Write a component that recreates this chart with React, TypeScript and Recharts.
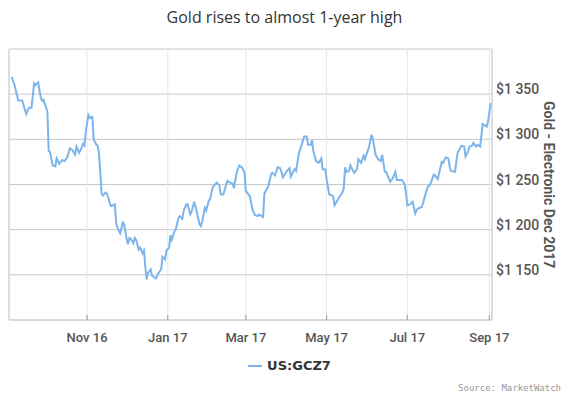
import { LineChart, Line, XAxis, YAxis, CartesianGrid, ReferenceLine } from 'recharts'

const DAY = 86400000
const START = Date.UTC(2016, 8, 3)
const END = Date.UTC(2017, 8, 3)

// [days since 3 Sep 2016, price in $]
const gczPrices: [number, number][] = [
  [2, 1369], [4, 1361], [7, 1343], [10, 1343], [13, 1328], [15, 1335], [17, 1335], [19, 1362],
  [20, 1360], [22, 1363], [24, 1346], [25, 1343], [26, 1344], [29, 1331], [30, 1287], [31, 1286],
  [33, 1271], [35, 1270], [36, 1279], [38, 1273], [40, 1277], [42, 1276], [44, 1280], [46, 1290],
  [48, 1288], [50, 1283], [51, 1292], [53, 1285], [55, 1291], [56, 1295], [57, 1293], [58, 1308],
  [60, 1327], [61, 1324], [63, 1325], [64, 1300], [66, 1294], [67, 1293], [68, 1285], [70, 1240],
  [71, 1238], [73, 1241], [74, 1240], [77, 1226], [80, 1228], [81, 1207], [82, 1202], [84, 1196],
  [86, 1208], [87, 1206], [89, 1189], [90, 1184], [91, 1191], [92, 1190], [94, 1185], [95, 1191],
  [96, 1189], [98, 1178], [99, 1180], [101, 1174], [102, 1177], [103, 1159], [104, 1145], [105, 1152],
  [107, 1156], [108, 1149], [110, 1147], [111, 1146], [113, 1152], [115, 1156], [116, 1170], [118, 1167],
  [119, 1177], [121, 1180], [122, 1194], [123, 1189], [125, 1198], [126, 1200], [128, 1213], [129, 1215],
  [131, 1212], [132, 1221], [134, 1228], [135, 1228], [137, 1217], [138, 1220], [140, 1231], [142, 1219],
  [144, 1206], [145, 1204], [146, 1209], [148, 1224], [149, 1221], [151, 1232], [152, 1234], [154, 1247],
  [157, 1252], [159, 1249], [160, 1239], [162, 1239], [165, 1254], [167, 1252], [169, 1251], [170, 1246],
  [172, 1263], [174, 1271], [176, 1269], [178, 1263], [179, 1243], [182, 1237], [184, 1222], [186, 1216],
  [188, 1215], [189, 1217], [192, 1214], [193, 1240], [196, 1248], [198, 1261], [199, 1263], [201, 1260],
  [203, 1269], [205, 1268], [207, 1258], [210, 1265], [212, 1268], [213, 1259], [215, 1265], [216, 1267],
  [217, 1265], [219, 1284], [220, 1289], [222, 1298], [223, 1303], [225, 1303], [226, 1294], [228, 1294],
  [229, 1299], [230, 1287], [232, 1276], [234, 1274], [236, 1279], [237, 1267], [239, 1267], [240, 1256],
  [242, 1239], [244, 1238], [245, 1237], [246, 1227], [248, 1232], [250, 1237], [252, 1241], [253, 1246],
  [254, 1269], [255, 1264], [257, 1265], [258, 1271], [260, 1265], [261, 1263], [263, 1267], [264, 1278],
  [266, 1274], [268, 1282], [269, 1278], [271, 1287], [272, 1291], [274, 1305], [275, 1300], [277, 1283],
  [279, 1278], [281, 1276], [282, 1283], [284, 1264], [285, 1264], [288, 1253], [290, 1257], [292, 1264],
  [293, 1255], [295, 1255], [297, 1255], [299, 1250], [300, 1241], [301, 1227], [303, 1228], [305, 1231],
  [307, 1218], [308, 1222], [310, 1224], [312, 1225], [313, 1230], [315, 1241], [317, 1249], [318, 1249],
  [321, 1261], [322, 1260], [324, 1256], [327, 1275], [328, 1274], [330, 1280], [332, 1279], [333, 1270],
  [334, 1265], [337, 1264], [339, 1285], [342, 1293], [344, 1292], [345, 1281], [347, 1287], [348, 1292],
  [350, 1293], [351, 1296], [353, 1292], [354, 1294], [356, 1292], [357, 1304], [358, 1317], [359, 1316],
  [361, 1314], [362, 1320], [363, 1330], [364, 1340],
]

const xTickDates = [
  Date.UTC(2016, 10, 1), Date.UTC(2017, 0, 1), Date.UTC(2017, 2, 1),
  Date.UTC(2017, 4, 1), Date.UTC(2017, 6, 1), Date.UTC(2017, 8, 1),
]
const xTickLabels = ['Nov 16', 'Jan 17', 'Mar 17', 'May 17', 'Jul 17', 'Sep 17']
const yTicks = [1100, 1150, 1200, 1250, 1300, 1350, 1400]
const yLabelled = [1150, 1200, 1250, 1300, 1350]

const data = gczPrices.map(([d, p]) => ({ t: START + d * DAY, price: p }))

const fmtPrice = (v: number) => '$' + String(v).replace(/(\d)(\d{3})$/, '$1 $2')

const YTick = (props: any) => {
  const { x, y, payload } = props
  if (!yLabelled.includes(payload.value)) return null
  return (
    <text x={x} y={y} textAnchor="start" fill="#555" fontSize={14} fontWeight={500} fontFamily="Roboto">
      {fmtPrice(payload.value)}
    </text>
  )
}

export default function App() {
  return (
    <div style={{ position: 'absolute', left: 0, top: 0, width: 569, height: 398, background: '#fff', fontFamily: 'Roboto' }}>
      <div style={{ position: 'absolute', top: 6, left: 0, width: 569, textAlign: 'center', fontFamily: '"Open Sans"', fontSize: 16, color: '#333' }}>
        Gold rises to almost 1-year high
      </div>

      <LineChart width={569} height={398} data={data} margin={{ top: 49, right: 17, bottom: 48, left: 9 }}>
        <CartesianGrid vertical={false} stroke="#c8c8c8" />
        <CartesianGrid horizontal={false} stroke="#e6e6e6" />
        <ReferenceLine x={START} stroke="#c8c8c8" />
        <ReferenceLine x={END} stroke="#c8c8c8" />
        <XAxis
          dataKey="t"
          type="number"
          domain={[START, END]}
          ticks={xTickDates}
          tickFormatter={(v: number) => xTickLabels[xTickDates.indexOf(v)] ?? ''}
          height={30}
          axisLine={{ stroke: '#c4d2e4' }}
          tickLine={{ stroke: '#999' }}
          tickSize={-5}
          tickMargin={18}
          tick={{ fill: '#555', fontSize: 13, fontWeight: 500, fontFamily: 'Roboto' }}
        />
        <YAxis
          orientation="right"
          domain={[1100, 1400]}
          ticks={yTicks}
          width={60}
          axisLine={false}
          tickLine={false}
          tickSize={0}
          tickMargin={4}
          tick={<YTick />}
        />
        <Line type="linear" dataKey="price" stroke="#7cb5ec" strokeWidth={2} dot={false} isAnimationActive={false} />
      </LineChart>

      <div style={{ position: 'absolute', left: 538, top: 49, width: 22, height: 271, display: 'flex', alignItems: 'center', justifyContent: 'center' }}>
        <span style={{ writingMode: 'vertical-rl', fontSize: 14, fontWeight: 700, color: '#555', whiteSpace: 'nowrap' }}>
          Gold - Electronic Dec 2017
        </span>
      </div>

      <div style={{ position: 'absolute', left: 0, top: 358, width: 569, display: 'flex', justifyContent: 'center', alignItems: 'center' }}>
        <span style={{ display: 'inline-block', width: 14, height: 2, background: '#7cb5ec', marginRight: 5, marginLeft: 10 }} />
        <span style={{ fontFamily: '"DejaVu Sans"', fontWeight: 700, fontSize: 13, color: '#333' }}>US:GCZ7</span>
      </div>

      <div style={{ position: 'absolute', right: 8, top: 383, fontFamily: '"DejaVu Sans Mono"', fontSize: 9, color: '#999' }}>
        Source: MarketWatch
      </div>
    </div>
  )
}
